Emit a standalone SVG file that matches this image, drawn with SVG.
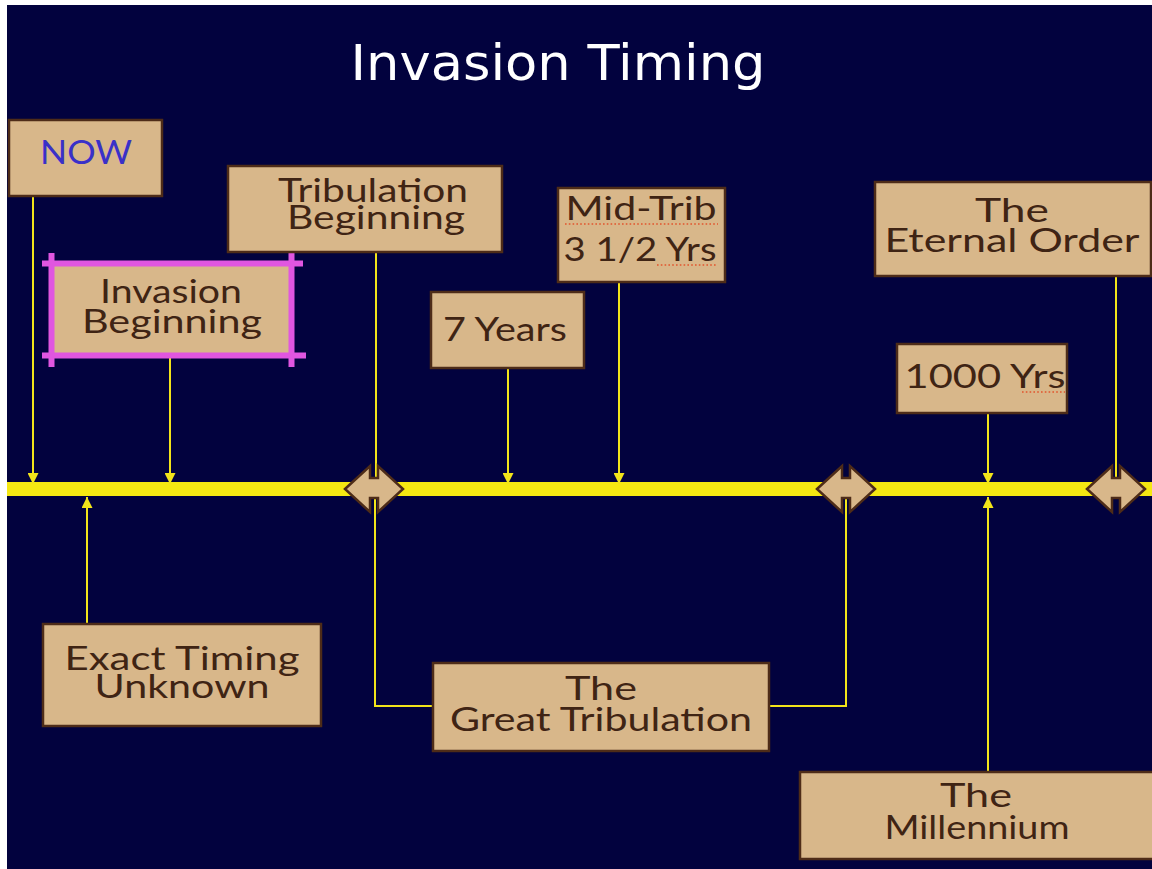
<svg xmlns="http://www.w3.org/2000/svg" width="1152" height="869" viewBox="0 0 1152 869">
<defs>
<style>
.box{fill:#d8b78a;stroke:#4e2c18;stroke-width:2.5}
.t{font-family:Lato,"Open Sans","DejaVu Sans",sans-serif;font-size:32px;fill:#3f2414;text-anchor:middle}
.con{fill:none;stroke:#f2e41a;stroke-width:2}
.dia{fill:#d8b78a;stroke:#4e2c18;stroke-width:2.5;stroke-linejoin:miter}
.dot{stroke:#e2542c;stroke-width:1.6;stroke-dasharray:1.6 2.2;fill:none}
.mag{stroke:#e056e0;stroke-width:6;fill:none}
</style>
<marker id="arr" viewBox="0 0 10 10" refX="10" refY="5" markerWidth="12" markerHeight="11" markerUnits="userSpaceOnUse" orient="auto">
<path d="M0,0 L10,5 L0,10 Z" fill="#f2e41a"/>
</marker>
</defs>
<rect x="0" y="0" width="1152" height="869" fill="#ffffff"/>
<rect x="7" y="5" width="1145" height="864" fill="#02023e"/>
<text x="558" y="80" font-family="'DejaVu Sans',sans-serif" font-size="50" fill="#ffffff" text-anchor="middle" textLength="415" lengthAdjust="spacingAndGlyphs">Invasion Timing</text>

<rect x="7" y="482" width="1145" height="14" fill="#f5e812"/>

<g id="connectors">
<path class="con" d="M33,196 V484" marker-end="url(#arr)"/>
<path class="con" d="M170,358 V484" marker-end="url(#arr)"/>
<path class="con" d="M376,252 V480"/>
<path class="con" d="M508,368 V484" marker-end="url(#arr)"/>
<path class="con" d="M619,282 V484" marker-end="url(#arr)"/>
<path class="con" d="M988,413 V484" marker-end="url(#arr)"/>
<path class="con" d="M1116,276 V480"/>
<path class="con" d="M87,624 V497" marker-end="url(#arr)"/>
<path class="con" d="M988,772 V497" marker-end="url(#arr)"/>
<path class="con" d="M433,706 H375 V498"/>
<path class="con" d="M769,706 H846 V498"/>
</g>

<g id="diamond1"><path class="dia" d="M345,489 L370,466 V478 H378 V466 L403,489 L378,512 V498 H370 V512 Z"/></g>
<g id="diamond2"><path class="dia" d="M817,489 L842,466 V478 H850 V466 L875,489 L850,512 V498 H842 V512 Z"/></g>
<g id="diamond3"><path class="dia" d="M1087,489 L1112,466 V478 H1120 V466 L1145,489 L1120,512 V498 H1112 V512 Z"/></g>

<g id="now">
<rect class="box" x="9" y="120" width="153" height="76"/>
<text x="86" y="164" font-family="Lato,'Open Sans',sans-serif" font-size="32" fill="#3a30c8" text-anchor="middle" textLength="92" lengthAdjust="spacingAndGlyphs">NOW</text>
</g>

<g id="invasion-beginning">
<rect x="52" y="264" width="239" height="91" fill="#d8b78a"/>
<path class="mag" d="M42,263.5 H303 M42,355.5 H306 M51.5,253 V367 M291.5,253 V367"/>
<text class="t" x="171" y="303" textLength="142" lengthAdjust="spacingAndGlyphs">Invasion</text>
<text class="t" x="172" y="333" textLength="180" lengthAdjust="spacingAndGlyphs">Beginning</text>
</g>

<g id="tribulation-beginning">
<rect class="box" x="228" y="166" width="274" height="86"/>
<text class="t" x="373" y="202" textLength="190" lengthAdjust="spacingAndGlyphs">Tribulation</text>
<text class="t" x="376" y="229" textLength="178" lengthAdjust="spacingAndGlyphs">Beginning</text>
</g>

<g id="mid-trib">
<rect class="box" x="558" y="188" width="167" height="94"/>
<text class="t" x="641" y="220" textLength="151" lengthAdjust="spacingAndGlyphs">Mid-Trib</text>
<text class="t" x="640" y="261" textLength="153" lengthAdjust="spacingAndGlyphs">3 1/2 Yrs</text>
<path class="dot" d="M565,224 H718 M657,265 H716"/>
</g>

<g id="seven-years">
<rect class="box" x="431" y="292" width="153" height="76"/>
<text class="t" x="505" y="341" textLength="124" lengthAdjust="spacingAndGlyphs">7 Years</text>
</g>

<g id="eternal-order">
<rect class="box" x="875" y="182" width="276" height="94"/>
<text class="t" x="1012" y="222" textLength="74" lengthAdjust="spacingAndGlyphs">The</text>
<text class="t" x="1012" y="252" textLength="255" lengthAdjust="spacingAndGlyphs">Eternal Order</text>
</g>

<g id="thousand-yrs">
<rect class="box" x="897" y="344" width="170" height="69"/>
<text class="t" x="985" y="388" textLength="161" lengthAdjust="spacingAndGlyphs">1000 Yrs</text>
<path class="dot" d="M1022,392 H1065"/>
</g>

<g id="exact-timing">
<rect class="box" x="43" y="624" width="278" height="102"/>
<text class="t" x="182" y="670" textLength="235" lengthAdjust="spacingAndGlyphs">Exact Timing</text>
<text class="t" x="182" y="698" textLength="175" lengthAdjust="spacingAndGlyphs">Unknown</text>
</g>

<g id="great-tribulation">
<rect class="box" x="433" y="663" width="336" height="88"/>
<text class="t" x="601" y="700" textLength="72" lengthAdjust="spacingAndGlyphs">The</text>
<text class="t" x="601" y="731" textLength="302" lengthAdjust="spacingAndGlyphs">Great Tribulation</text>
</g>

<g id="millennium">
<rect class="box" x="800" y="772" width="354" height="87"/>
<text class="t" x="976" y="807" textLength="72" lengthAdjust="spacingAndGlyphs">The</text>
<text class="t" x="977" y="839" textLength="185" lengthAdjust="spacingAndGlyphs">Millennium</text>
</g>
</svg>
